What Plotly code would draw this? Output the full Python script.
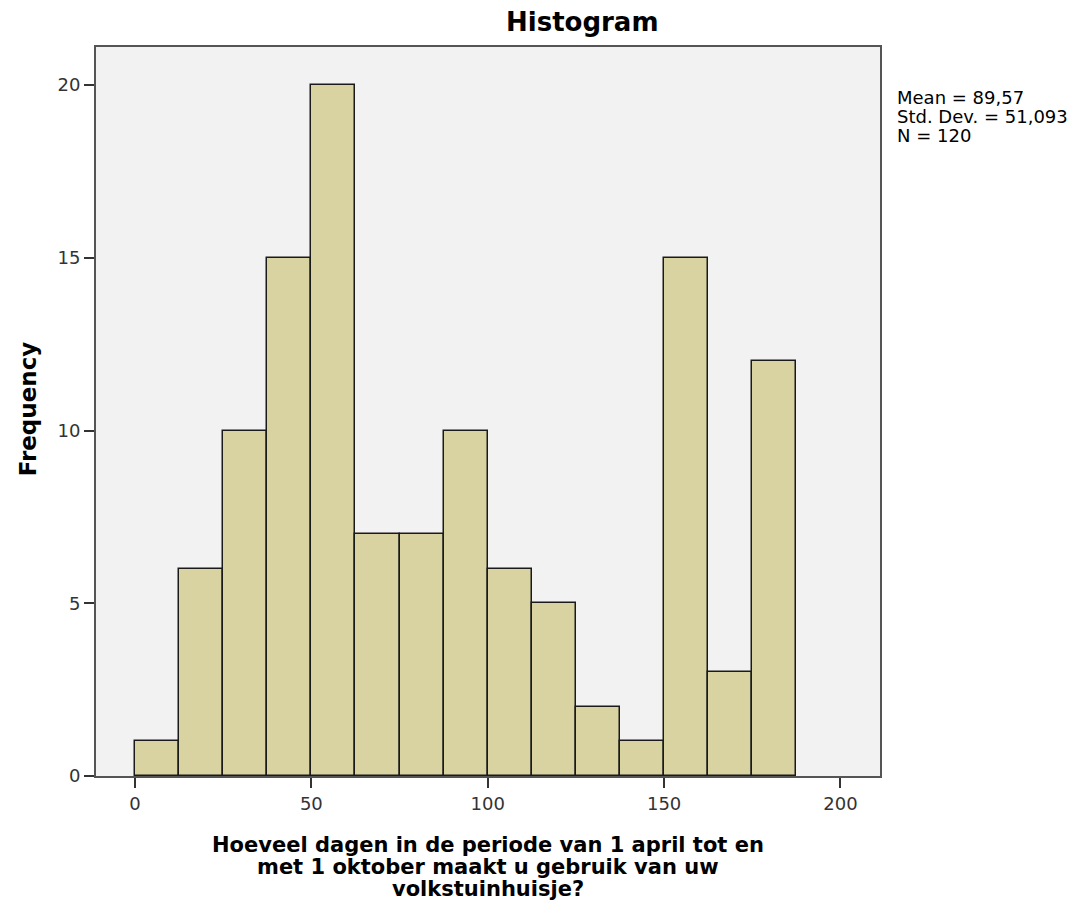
import plotly.graph_objects as go

bin_starts = [0, 12.5, 25, 37.5, 50, 62.5, 75, 87.5, 100, 112.5, 125, 137.5, 150, 162.5, 175]
bin_width = 12.5
counts = [1, 6, 10, 15, 20, 7, 7, 10, 6, 5, 2, 1, 15, 3, 12]
x_ticks = [0, 50, 100, 150, 200]
y_ticks = [0, 5, 10, 15, 20]
stats_lines = ["Mean = 89,57", "Std. Dev. = 51,093", "N = 120"]
title = "Histogram"
x_title_lines = ["Hoeveel dagen in de periode van 1 april tot en",
                 "met 1 oktober maakt u gebruik van uw",
                 "volkstuinhuisje?"]
y_title = "Frequency"

centers = [s + bin_width / 2 for s in bin_starts]

fig = go.Figure()
fig.add_trace(go.Bar(
    x=centers, y=counts, width=[bin_width] * len(counts),
    marker=dict(color="#d9d3a2", line=dict(color="#1a1a1a", width=1.5)),
    hoverinfo="x+y",
))

font_family = "DejaVu Sans, Open Sans, sans-serif"

annotations = [
    dict(text="<b>" + title + "</b>", xref="paper", yref="paper",
         x=0.621, y=1.0, yshift=25, xanchor="center", yanchor="middle",
         showarrow=False, font=dict(size=26, color="black", family=font_family)),
    dict(text="<b>" + y_title + "</b>", xref="paper", yref="paper",
         x=0, xshift=-68, y=0.503, xanchor="center", yanchor="middle",
         textangle=-90, showarrow=False,
         font=dict(size=23, color="black", family=font_family)),
]
for i, line in enumerate(x_title_lines):
    annotations.append(dict(
        text="<b>" + line + "</b>", xref="paper", yref="paper",
        x=0.5, y=0, yshift=-69 - 22 * i, xanchor="center", yanchor="middle",
        showarrow=False, font=dict(size=21, color="black", family=font_family)))
for i, line in enumerate(stats_lines):
    annotations.append(dict(
        text=line, xref="paper", yref="paper",
        x=1, xshift=15, y=1, yshift=-50 - 19 * i, xanchor="left", yanchor="middle",
        align="left", showarrow=False,
        font=dict(size=18, color="black", family=font_family)))

fig.update_layout(
    width=1085, height=915,
    margin=dict(l=88, r=213, t=39, b=147),
    paper_bgcolor="white",
    plot_bgcolor="#f2f2f2",
    showlegend=False,
    bargap=0,
    font=dict(family=font_family, color="#333333"),
    xaxis=dict(
        range=[-11.05, 211.2],
        tickmode="array", tickvals=x_ticks,
        ticks="outside", ticklen=10, tickwidth=1.5, tickcolor="#333333",
        showgrid=False, zeroline=False,
        showline=True, linecolor="#555555", linewidth=2, mirror=True,
        tickfont=dict(size=18, color="#333333"),
    ),
    yaxis=dict(
        range=[0, 21.1],
        tickmode="array", tickvals=y_ticks,
        ticks="outside", ticklen=10, tickwidth=1.5, tickcolor="#333333",
        showgrid=False, zeroline=False,
        showline=True, linecolor="#555555", linewidth=2, mirror=True,
        tickfont=dict(size=18, color="#333333"),
    ),
    annotations=annotations,
)

fig.write_html("out.html")
